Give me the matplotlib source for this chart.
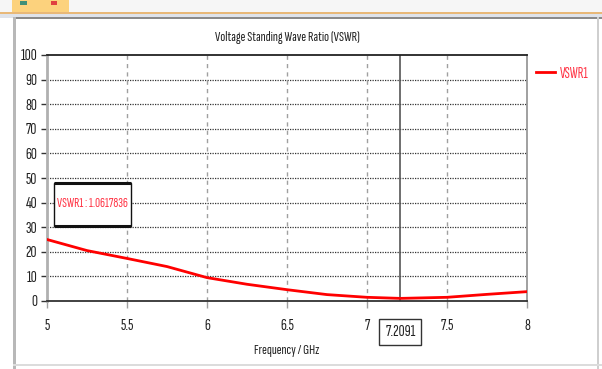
import matplotlib.pyplot as plt
from matplotlib.patches import Rectangle

# VSWR sweep (GHz, ratio)
freq = [5.0, 5.25, 5.5, 5.75, 6.0, 6.25, 6.5, 6.75, 7.0, 7.2091, 7.5, 7.75, 8.0]
vswr = [25.0, 20.5, 17.3, 14.0, 9.5, 6.8, 4.6, 2.6, 1.5, 1.0617836, 1.5, 2.7, 3.8]
marker_f = 7.2091
marker_v = 1.0617836
xticks = [5, 5.5, 6, 6.5, 7, 7.5, 8]
xticklabels = ["5", "5.5", "6", "6.5", "7", "7.5", "8"]
yticks = list(range(0, 101, 10))

FONT = ["Sofia Sans Extra Condensed", "PT Sans Narrow", "DejaVu Sans"]
plt.rcParams["font.family"] = FONT

fig = plt.figure(figsize=(6.02, 3.69), dpi=100)
fig.patch.set_facecolor("white")

# window chrome around the plot panel
W, H = 602, 369
def px(x, y, w, h, **kw):
    fig.patches.append(Rectangle((x / W, 1 - (y + h) / H), w / W, h / H,
                                 transform=fig.transFigure, **kw))

px(0, 0, W, 12, color="#f6f6f6", lw=0)
px(12, 0, 57, 12, color="#fcd27d", lw=0)
px(20, 1, 7, 4, color="#3f8f78", lw=0)
px(51, 1, 6, 4, color="#e04040", lw=0)
px(0, 12, W, 2, color="#e8b878", lw=0)
px(0, 14, W, 4, color="#dfe3ea", lw=0)
px(13, 17, W - 13, 2, color="#8a8a8a", lw=0)
px(13, 17, 3, H - 17, color="#b8b8b8", lw=0)
px(597, 17, 2, H - 17, color="#cfcfcf", lw=0)
px(13, 364, W - 13, 2, color="#dcdcdc", lw=0)

ax = fig.add_axes([47 / W, 1 - 301 / H, 480 / W, 246 / H])
ax.set_xlim(5, 8)
ax.set_ylim(0, 100)

# grid: dotted horizontals, dashed grey verticals
for y in yticks[1:-1]:
    ax.axhline(y, color="#333333", lw=0.9, ls=(0, (1, 1)), zorder=1)
for x in [5.5, 6, 6.5, 7, 7.5]:
    ax.axvline(x, color="#a0a0a0", lw=1.0, ls=(0, (3, 3)), zorder=1)

ax.plot(freq, vswr, color="#ff0000", lw=2.0, zorder=3, label="VSWR1")

# marker line
ax.axvline(marker_f, color="#555555", lw=1.2, zorder=2)

ax.spines["top"].set_color("#222222")
ax.spines["top"].set_linewidth(1.3)
ax.spines["bottom"].set_color("#333333")
ax.spines["bottom"].set_linewidth(1.3)
ax.spines["left"].set_color("#b0b0b0")
ax.spines["left"].set_linewidth(2)
ax.spines["right"].set_color("#909090")
ax.spines["right"].set_linewidth(1.2)

ax.set_xticks(xticks)
ax.set_xticklabels(xticklabels)
ax.set_yticks(yticks)
ax.set_yticklabels([str(v) for v in yticks])
ax.tick_params(axis="x", length=5, width=1, color="#a0a0a0", pad=8,
               labelsize=12, labelcolor="#222222")
ax.tick_params(axis="y", length=4, width=1, color="#333333", pad=3,
               labelsize=12, labelcolor="#222222")

# marker readout below the axis
ax.text(marker_f, -9.8, "7.2091", ha="center", va="top", fontsize=12,
        color="#222222", transform=ax.transData, clip_on=False,
        bbox=dict(boxstyle="square,pad=0.35", fc="white", ec="#333333", lw=1))

# value readout box
x0, x1, y0, y1 = 5.044, 5.525, 30.5, 48.0
ax.add_patch(Rectangle((x0, y0), x1 - x0, y1 - y0, fc="white",
                       ec="#111111", lw=1.0, zorder=5))
ax.plot([x0, x1], [y1, y1], color="#111111", lw=2.2, zorder=6,
        solid_capstyle="butt")
ax.plot([x0, x1], [y0, y0], color="#111111", lw=2.2, zorder=6,
        solid_capstyle="butt")
ax.text((x0 + x1) / 2, 39.5, "VSWR1 : " + str(marker_v), ha="center",
        va="center", fontsize=10, color="#ff3344", zorder=7)

ax.set_title("Voltage Standing Wave Ratio (VSWR)", fontsize=10.5,
             color="#222222", pad=10)
ax.set_xlabel("Frequency / GHz", fontsize=10.5, color="#222222", labelpad=8)

ax.legend(loc="upper left", bbox_to_anchor=(1.0, 0.99), frameon=False,
          fontsize=11, labelcolor="#ff3344", handlelength=1.2,
          handletextpad=0.35, borderaxespad=0.3, borderpad=0.3)

fig.savefig("out.png", dpi=100)
